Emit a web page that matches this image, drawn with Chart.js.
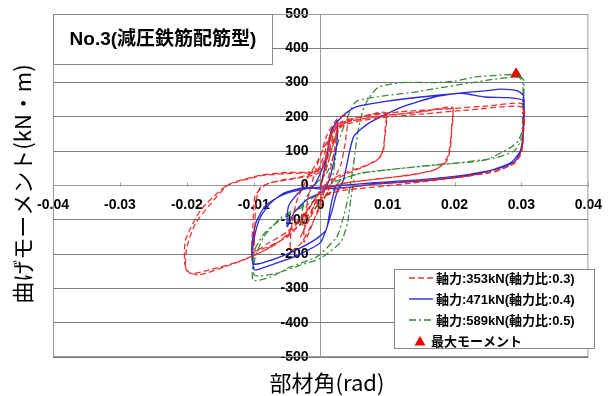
<!DOCTYPE html>
<html lang="ja">
<head>
<meta charset="UTF-8" />
<title>No.3 減圧鉄筋配筋型</title>
<script src="https://cdn.jsdelivr.net/npm/chart.js"></script>
<style>
  html, body { margin: 0; padding: 0; background: #fff; }
  #wrap { width: 613px; height: 396px; }
</style>
</head>
<body>
<div id="wrap"><canvas id="chart" width="613" height="396"></canvas></div>
<script>
// 軸力 353kN (軸力比 0.3) - 赤 破線
const redX = [0,0.0008,0.0015,0.0022,0.0025,0.0022,0.0015,0.0005,-0.0008,-0.0018,-0.0025,-0.0024,-0.0018,-0.001,0,
  0.001,0.0025,0.004,0.0037,0.003,0.0015,0,-0.0015,-0.003,-0.0045,-0.0043,-0.0035,-0.002,-0.0005,0.001,
  0.003,0.006,0.0097,0.0096,0.0094,0.0085,0.0065,0.004,0.002,0,-0.002,-0.005,-0.0075,-0.0098,-0.0098,-0.0097,-0.009,-0.006,-0.003,0,
  0.002,0.005,0.0097,0.0095,0.009,0.007,0.004,0.001,-0.002,-0.005,-0.008,-0.0102,-0.0101,-0.0098,-0.008,-0.004,0,
  0.002,0.005,0.01,0.015,0.0197,0.0196,0.0194,0.0188,0.017,0.013,0.008,0.003,0,-0.003,-0.006,-0.01,-0.0143,-0.0183,-0.0201,-0.02,-0.0187,-0.0165,-0.0139,-0.009,-0.005,0,
  0.003,0.008,0.014,0.0196,0.0195,0.019,0.0175,0.014,0.009,0.004,0,-0.003,-0.007,-0.012,-0.017,-0.0195,-0.0203,-0.0202,-0.0179,-0.0139,-0.009,-0.005,-0.0005,
  0.002,0.006,0.012,0.02,0.025,0.0301,0.0302,0.0301,0.0296,0.028,0.024,0.018,0.012,0.006,0.002,0,-0.002,-0.003,
  -0.001,0.001,0.003,0.008,0.015,0.022,0.0302,0.0303,0.03,0.029,0.026,0.02,0.014,0.008,0.003,0];
const redY = [0,60,120,165,185,120,50,-20,-90,-140,-165,-100,-30,30,90,
  150,195,205,130,60,0,-60,-120,-170,-190,-110,-40,20,70,130,
  185,200,213,160,105,75,55,35,15,-30,-90,-150,-175,-190,-120,-50,-5,15,25,50,
  160,195,208,130,85,60,40,10,-70,-135,-170,-195,-110,-30,5,20,40,
  165,190,205,215,228,180,110,70,45,30,18,5,-20,-100,-160,-205,-237,-261,-246,-180,-110,-55,0,28,35,45,
  175,200,212,222,150,85,50,32,20,8,-15,-110,-175,-220,-248,-256,-230,-159,-71,2,30,38,45,
  170,200,215,225,232,238,180,120,80,55,35,20,10,0,-15,-40,-110,-150,
  -60,60,170,195,208,220,228,150,95,65,40,22,8,-5,-15,-35];

// 軸力 471kN (軸力比 0.4) - 青 実線
const blueX = [0,0.0008,0.0015,0.0025,0.0024,0.0015,0.0005,-0.002,-0.004,-0.005,-0.0048,-0.003,-0.001,
  0.0009,0.0016,0.0034,0.0053,0.0097,0.015,0.02,0.0245,0.027,0.0294,0.0303,0.0304,0.0302,0.0298,0.0285,0.026,0.022,0.015,0.008,0.0049,0.002,0,
  -0.0025,-0.0055,-0.0075,-0.009,-0.0099,-0.0102,-0.0099,-0.0084,-0.004,0,0.0016,0.0024,0.0034,
  0.0049,0.0072,0.0122,0.017,0.021,0.0245,0.028,0.0302,0.0303,0.0301,0.029,0.027,0.022,0.015,0.008,0.003,0,
  -0.003,-0.006,-0.0083,-0.0097,-0.0103,-0.0101,-0.0088,-0.005,-0.001,0.0008,0.0015,0.0022];
const blueY = [0,70,150,190,120,30,-15,-40,-80,-120,-60,-15,0,
  83,162,205,229,245,258,268,276,281,276,262,200,140,100,68,48,28,13,4,-4,-8,-10,
  -6,-22,-51,-92,-150,-208,-246,-238,-208,-165,-80,-22,16,
  141,182,229,258,269,258,256,248,180,110,70,52,32,17,8,0,-5,
  -12,-30,-60,-110,-180,-228,-226,-200,-160,-130,-60,0];

// 軸力 589kN (軸力比 0.5) - 緑 一点鎖線
const greenX = [0,0.001,0.002,0.0025,0.0022,0.0015,0,-0.002,-0.003,-0.0025,-0.001,
  0.001,0.0025,0.004,0.0053,0.0097,0.014,0.017,0.022,0.026,0.0295,0.0302,0.0302,0.0301,0.0295,0.0285,0.0245,0.017,0.0097,0.0058,0.003,0.0015,
  -0.001,-0.0035,-0.006,-0.0084,-0.0099,-0.0101,-0.0075,-0.0046,-0.0006,0.0024,0.0034,0.0041,
  0.0049,0.0055,0.0065,0.0085,0.012,0.017,0.02,0.023,0.027,0.0292,0.0303,0.0303,0.0302,0.029,0.026,0.02,0.012,0.006,0.002,0,
  -0.003,-0.006,-0.0085,-0.0098,-0.0099,-0.007,-0.003,0,0.003,0.004,0.0045,0.005];
const greenY = [0,60,130,160,80,0,-50,-90,-120,-50,0,
  40,120,200,245,262,272,282,298,310,316,302,230,160,130,112,74,60,45,36,15,-20,
  -45,-71,-100,-139,-190,-276,-267,-238,-208,-150,-92,-34,
  60,150,230,285,300,300,304,316,322,323,308,230,150,102,80,65,50,35,10,-20,
  -60,-95,-150,-210,-262,-258,-232,-212,-165,-110,-40,20];

// 最大モーメント
const peakX = [0.0292];
const peakY = [325];

const legendLabels = ['軸力:353kN(軸力比:0.3)', '軸力:471kN(軸力比:0.4)', '軸力:589kN(軸力比:0.5)', '最大モーメント'];

const pts = (xs, ys) => xs.map((x, i) => ({ x: x, y: ys[i] }));

Chart.defaults.font.family = "'Liberation Sans', Arial, 'Noto Sans CJK JP', sans-serif";
Chart.defaults.color = '#000';

const decor = {
  id: 'decor',
  beforeDatasetsDraw(chart) {
    const { ctx, chartArea: a } = chart;
    ctx.save();
    ctx.strokeStyle = '#9a9a9a';
    ctx.lineWidth = 1;
    ctx.strokeRect(a.left + 0.5, a.top + 0.5, a.right - a.left - 1, a.bottom - a.top - 1);
    // small tick marks on the x axis
    const xs = chart.scales.x, y0 = Math.round(chart.scales.y.getPixelForValue(0)) + 0.5;
    ctx.beginPath();
    xs.ticks.forEach(t => {
      const px = Math.round(xs.getPixelForValue(t.value)) + 0.5;
      ctx.moveTo(px, y0); ctx.lineTo(px, y0 - 4);
    });
    ctx.stroke();
    ctx.restore();
  },
  afterDraw(chart) {
    const { ctx, chartArea: a } = chart;
    ctx.save();
    // title box
    ctx.fillStyle = '#fff';
    ctx.fillRect(a.left, a.top, 219, 50);
    ctx.strokeStyle = '#8a8a8a';
    ctx.lineWidth = 1;
    ctx.strokeRect(a.left + 0.5, a.top + 0.5, 219, 50);
    ctx.fillStyle = '#000';
    ctx.font = "bold 19px 'Liberation Sans', Arial, 'Noto Sans CJK JP', sans-serif";
    ctx.textAlign = 'center';
    ctx.textBaseline = 'middle';
    ctx.fillText('No.3(減圧鉄筋配筋型)', a.left + 110, a.top + 26);

    // legend box
    const lx = 394, ly = 269, lw = 200, lh = 79;
    ctx.fillStyle = '#fff';
    ctx.fillRect(lx, ly, lw, lh);
    ctx.strokeStyle = '#8a8a8a';
    ctx.strokeRect(lx + 0.5, ly + 0.5, lw, lh);
    const ds = chart.data.datasets;
    ctx.font = "bold 13px 'Liberation Sans', Arial, 'Noto Sans CJK JP', sans-serif";
    ctx.textAlign = 'left';
    for (let i = 0; i < 4; i++) {
      const cy = ly + 9 + i * 21;
      if (i < 3) {
        ctx.beginPath();
        ctx.strokeStyle = ds[i].borderColor;
        ctx.lineWidth = 1.4;
        ctx.setLineDash(ds[i].borderDash || []);
        ctx.moveTo(409, cy); ctx.lineTo(433, cy);
        ctx.stroke();
        ctx.setLineDash([]);
      } else {
        ctx.fillStyle = '#ee0000';
        ctx.beginPath();
        ctx.moveTo(420, cy - 5); ctx.lineTo(425.5, cy + 4.5); ctx.lineTo(414.5, cy + 4.5);
        ctx.closePath(); ctx.fill();
      }
      ctx.fillStyle = '#000';
      ctx.fillText(legendLabels[i], i < 3 ? 436 : 431, cy + 1);
    }

    // axis titles
    ctx.font = "22px 'Noto Sans CJK JP', sans-serif";
    ctx.textAlign = 'center';
    ctx.fillText('部材角(rad)', 327, 383);
    ctx.translate(23, 184);
    ctx.rotate(-Math.PI / 2);
    ctx.fillText('曲げモーメント(kN・m)', 0, 0);
    ctx.restore();
  }
};

new Chart(document.getElementById('chart'), {
  type: 'scatter',
  data: {
    datasets: [
      { label: legendLabels[0], data: pts(redX, redY), showLine: true, borderColor: 'rgba(235,30,30,0.9)',
        borderWidth: 1.3, borderDash: [6, 3], pointRadius: 0, tension: 0.2 },
      { label: legendLabels[1], data: pts(blueX, blueY), showLine: true, borderColor: '#2a2ad8',
        borderWidth: 1.3, pointRadius: 0, tension: 0.2 },
      { label: legendLabels[2], data: pts(greenX, greenY), showLine: true, borderColor: '#3a8a3a',
        borderWidth: 1.3, borderDash: [7, 3, 2, 3], pointRadius: 0, tension: 0.2 },
      { label: legendLabels[3], data: pts(peakX, peakY), showLine: false, pointStyle: 'triangle',
        pointRadius: 6, backgroundColor: '#ee0000', borderColor: '#ee0000' }
    ]
  },
  options: {
    responsive: false,
    animation: false,
    layout: { padding: { left: 53, right: 18, top: 14, bottom: 39 } },
    plugins: { legend: { display: false }, tooltip: { enabled: false } },
    scales: {
      x: {
        type: 'linear', min: -0.04, max: 0.04, position: { y: 0 },
        ticks: { stepSize: 0.01, padding: 11, font: { size: 14, weight: 'bold' } },
        // only the zero line is drawn: it is the vertical axis
        grid: { drawTicks: false, color: c => (c.tick && c.tick.value === 0) ? '#9a9a9a' : 'rgba(0,0,0,0)' },
        border: { display: true, color: '#9a9a9a' }
      },
      y: {
        // axis placed slightly left of zero so the labels sit clear of the zero line
        type: 'linear', min: -500, max: 500, position: { x: -0.0018 },
        ticks: { stepSize: 100, padding: 0, font: { size: 14, weight: 'bold' } },
        grid: { color: '#7a7a7a', drawTicks: false },
        border: { display: false }
      }
    }
  },
  plugins: [decor]
});
</script>
</body>
</html>
